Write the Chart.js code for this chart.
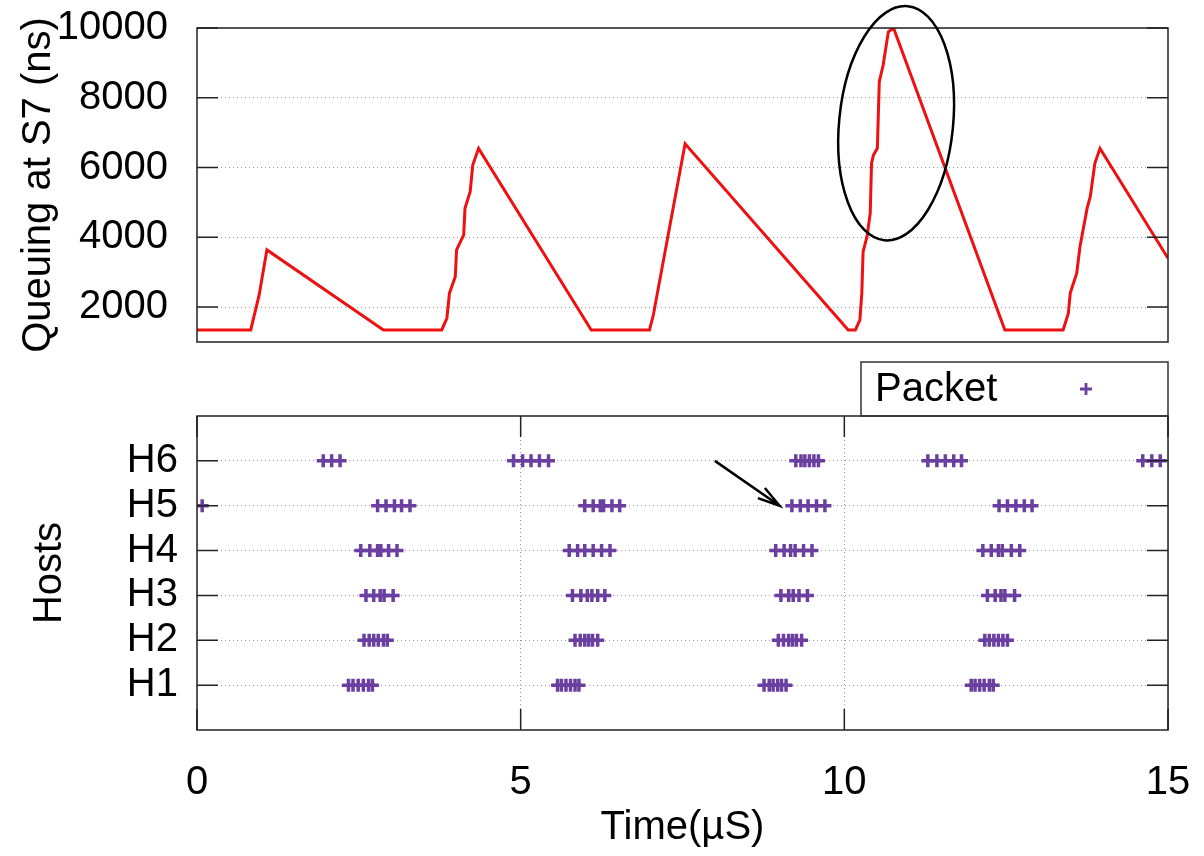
<!DOCTYPE html>
<html>
<head>
<meta charset="utf-8">
<script src="https://cdn.jsdelivr.net/npm/chart.js@4.4.1/dist/chart.umd.min.js"></script>
<style>
    html, body { margin: 0; padding: 0; background: #fff; }
    body { width: 1204px; height: 856px; position: relative; overflow: hidden; }
    canvas { position: absolute; left: 0; }
    #queueChart { top: 0; }
    #hostChart { top: 340px; }
</style>
</head>
<body>
<canvas id="hostChart" width="1204" height="516"></canvas>
<canvas id="queueChart" width="1204" height="400"></canvas>
<script>
// Fila no switch S7 (ns) ao longo do tempo (µs)
const queueTime = [0, 0.83, 0.96, 1.08, 2.88, 3.78, 3.86, 3.9, 3.99, 4.01, 4.12, 4.14, 4.22, 4.26, 4.35,
    6.09, 6.99, 7.05, 7.54, 10.06, 10.17, 10.24, 10.27, 10.29, 10.35, 10.4, 10.42, 10.45, 10.51, 10.54,
    10.6, 10.68, 10.76, 12.48, 13.38, 13.46, 13.49, 13.59, 13.64, 13.75, 13.8, 13.87, 13.95, 15];
const queueNs = [1345, 1345, 2350, 3640, 1345, 1345, 1680, 2400, 2870, 3640, 4070, 4830, 5310, 6070, 6550,
    1345, 1345, 1780, 6680, 1345, 1345, 1630, 2400, 3590, 4020, 4690, 6120, 6360, 6550, 8460,
    8940, 9890, 10000, 1345, 1345, 1820, 2400, 2970, 3730, 4830, 5170, 6120, 6550, 3400];
const queueTicks = [2000, 4000, 6000, 8000, 10000];

// Pacotes enviados por host
const hostLabels = ['H1', 'H2', 'H3', 'H4', 'H5', 'H6'];
const h1Times = [2.34, 2.41, 2.49, 2.57, 2.65, 2.71, 5.57, 5.63, 5.70, 5.77, 5.84, 5.90,
    8.76, 8.84, 8.90, 8.97, 9.03, 9.10, 11.96, 12.02, 12.09, 12.16, 12.24, 12.30];
const h2Times = [2.58, 2.66, 2.73, 2.80, 2.88, 2.94, 5.84, 5.92, 5.99, 6.05, 6.11, 6.19,
    8.98, 9.06, 9.14, 9.20, 9.26, 9.34, 12.17, 12.24, 12.31, 12.38, 12.45, 12.52];
const h3Times = [2.61, 2.73, 2.83, 2.89, 3.03, 5.80, 5.93, 6.03, 6.10, 6.19, 6.30,
    9.02, 9.14, 9.21, 9.30, 9.43, 12.21, 12.33, 12.42, 12.48, 12.63];
const h4Times = [2.53, 2.67, 2.79, 2.84, 2.96, 3.09, 5.75, 5.88, 5.99, 6.12, 6.25, 6.38,
    8.94, 9.07, 9.17, 9.24, 9.37, 9.50, 12.14, 12.27, 12.38, 12.44, 12.58, 12.71];
const h5Times = [0.08, 2.79, 2.92, 3.05, 3.16, 3.29, 5.99, 6.12, 6.23, 6.28, 6.41, 6.53,
    9.19, 9.32, 9.44, 9.57, 9.70, 12.39, 12.52, 12.65, 12.78, 12.90];
const h6Times = [1.95, 2.08, 2.21, 4.89, 5.03, 5.16, 5.29, 5.43, 9.25, 9.33, 9.39, 9.46, 9.53, 9.60,
    11.29, 11.43, 11.56, 11.69, 11.81, 14.61, 14.75, 14.88];
const timeTicks = [0, 5, 10, 15];

const red = '#ee1111';
const purple = '#6b3fa0';
const fontFamily = '"Liberation Sans", Arial, sans-serif';
const bigFont = { family: fontFamily, size: 40 };

// caixa do gráfico + marcas internas (estilo gnuplot)
const framePlugin = {
    id: 'frame',
    afterDatasetsDraw(chart, args, opts) {
        const { ctx, chartArea: a, scales } = chart;
        const len = 21;
        ctx.save();
        ctx.strokeStyle = '#222';
        ctx.lineWidth = 1.5;
        ctx.beginPath();
        scales.y.ticks.forEach(t => {
            const py = scales.y.getPixelForValue(t.value);
            ctx.moveTo(a.left, py); ctx.lineTo(a.left + len, py);
            ctx.moveTo(a.right - len, py); ctx.lineTo(a.right, py);
        });
        if (opts.xTicks) {
            scales.x.ticks.forEach(t => {
                const px = scales.x.getPixelForValue(t.value);
                ctx.moveTo(px, a.top); ctx.lineTo(px, a.top + len);
                ctx.moveTo(px, a.bottom - len); ctx.lineTo(px, a.bottom);
            });
        }
        ctx.stroke();
        ctx.strokeRect(a.left, a.top, a.right - a.left, a.bottom - a.top);
        ctx.restore();
    }
};

// elipse e seta (anotações)
const marksPlugin = {
    id: 'marks',
    afterDraw(chart, args, opts) {
        const { ctx, scales: { x, y } } = chart;
        ctx.save();
        ctx.strokeStyle = '#000';
        ctx.lineWidth = 2.5;
        (opts.ellipses || []).forEach(e => {
            const cx = x.getPixelForValue(e.x), cy = y.getPixelForValue(e.y);
            const rx = Math.abs(x.getPixelForValue(e.x + e.rx) - cx);
            const ry = Math.abs(y.getPixelForValue(e.y + e.ry) - cy);
            ctx.beginPath();
            ctx.ellipse(cx, cy, rx, ry, e.tilt, 0, Math.PI * 2);
            ctx.stroke();
        });
        (opts.arrows || []).forEach(ar => {
            const x1 = x.getPixelForValue(ar.from[0]), y1 = y.getPixelForValue(ar.from[1]);
            const x2 = x.getPixelForValue(ar.to[0]), y2 = y.getPixelForValue(ar.to[1]);
            const ang = Math.atan2(y2 - y1, x2 - x1);
            const head = 23, spread = 0.27;
            ctx.beginPath();
            ctx.moveTo(x1, y1); ctx.lineTo(x2, y2);
            ctx.moveTo(x2 - head * Math.cos(ang - spread), y2 - head * Math.sin(ang - spread));
            ctx.lineTo(x2, y2);
            ctx.lineTo(x2 - head * Math.cos(ang + spread), y2 - head * Math.sin(ang + spread));
            ctx.stroke();
        });
        ctx.restore();
    }
};

// legenda em caixa acima do gráfico de hosts
const keyPlugin = {
    id: 'key',
    afterDraw(chart) {
        const { ctx, chartArea: a } = chart;
        const w = 307, h = 54;
        const left = a.right - w, top = a.top - h;
        ctx.save();
        ctx.strokeStyle = '#333';
        ctx.lineWidth = 1.5;
        ctx.strokeRect(left, top, w, h);
        ctx.font = '40px ' + fontFamily;
        ctx.fillStyle = '#000';
        ctx.textBaseline = 'middle';
        ctx.textAlign = 'left';
        ctx.fillText(chart.data.datasets[0].label, left + 14, top + h / 2 + 1);
        const px = left + 225, py = top + h / 2;
        ctx.strokeStyle = purple;
        ctx.lineWidth = 2.8;
        ctx.beginPath();
        ctx.moveTo(px - 6, py); ctx.lineTo(px + 6, py);
        ctx.moveTo(px, py - 6); ctx.lineTo(px, py + 6);
        ctx.stroke();
        ctx.restore();
    }
};

function noPad(s) {
    s.paddingLeft = 0; s.paddingRight = 0; s.paddingTop = 0; s.paddingBottom = 0;
}

const gridStyle = { color: '#9a9a9a', lineWidth: 1, drawTicks: false };
const borderStyle = { display: false, dash: [1, 3] };

// Gráfico de fila
new Chart(document.getElementById('queueChart'), {
    type: 'line',
    data: {
        datasets: [{
            label: 'Queue',
            data: queueTime.map((t, i) => ({ x: t, y: queueNs[i] })),
            borderColor: red,
            borderWidth: 3,
            pointRadius: 0,
            tension: 0
        }]
    },
    options: {
        responsive: false,
        animation: false,
        devicePixelRatio: 1,
        layout: { padding: { left: 0, top: 28, right: 36, bottom: 58 } },
        plugins: {
            legend: { display: false },
            tooltip: { enabled: false },
            frame: { xTicks: false },
            marks: { ellipses: [{ x: 10.8, y: 7270, rx: 0.88, ry: 3370, tilt: 0.1 }] }
        },
        scales: {
            x: { type: 'linear', min: 0, max: 15, display: false },
            y: {
                min: 1000, max: 10000,
                afterBuildTicks: s => { s.ticks = queueTicks.map(v => ({ value: v })); },
                afterFit: s => { s.width = 197; noPad(s); },
                ticks: { font: bigFont, color: '#000', padding: 29, callback: v => String(v) },
                grid: gridStyle,
                border: borderStyle,
                title: { display: true, text: 'Queuing at S7 (ns)', font: bigFont, color: '#000', padding: { top: 15, bottom: 0 } }
            }
        }
    },
    plugins: [framePlugin, marksPlugin]
});

// Gráfico de pacotes por host
const hostSeries = [h1Times, h2Times, h3Times, h4Times, h5Times, h6Times];
const packetPoints = [];
hostSeries.forEach((times, i) => times.forEach(t => packetPoints.push({ x: t, y: i + 1 })));

new Chart(document.getElementById('hostChart'), {
    type: 'scatter',
    data: {
        datasets: [{
            label: 'Packet',
            data: packetPoints,
            pointStyle: 'cross',
            pointRadius: 6.5,
            pointBorderWidth: 3.5,
            pointBorderColor: purple,
            pointBackgroundColor: purple,
            borderColor: purple,
            backgroundColor: purple
        }]
    },
    options: {
        responsive: false,
        animation: false,
        devicePixelRatio: 1,
        layout: { padding: { left: 0, top: 76, right: 36, bottom: 0 } },
        elements: { point: { pointStyle: 'cross', radius: 6.5, borderWidth: 3.5 } },
        plugins: {
            legend: { display: false },
            tooltip: { enabled: false },
            frame: { xTicks: true },
            marks: { arrows: [{ from: [8, 6], to: [9, 5] }] }
        },
        scales: {
            x: {
                type: 'linear', min: 0, max: 15,
                afterBuildTicks: s => { s.ticks = timeTicks.map(v => ({ value: v })); },
                afterFit: s => { s.height = 126; noPad(s); },
                ticks: { font: bigFont, color: '#000', padding: 29, maxRotation: 0, autoSkip: false },
                grid: gridStyle,
                border: borderStyle,
                title: { display: true, text: 'Time(µS)', font: bigFont, color: '#000', padding: { top: 0, bottom: 4 } }
            },
            y: {
                min: 0, max: 7,
                afterBuildTicks: s => { s.ticks = hostLabels.map((l, i) => ({ value: i + 1 })); },
                afterFit: s => { s.width = 197; noPad(s); },
                ticks: { font: bigFont, color: '#000', padding: 19, callback: v => hostLabels[v - 1] },
                grid: gridStyle,
                border: borderStyle,
                title: { display: true, text: 'Hosts', font: bigFont, color: '#000', padding: { top: 26, bottom: 0 } }
            }
        }
    },
    plugins: [framePlugin, marksPlugin, keyPlugin]
});
</script>
</body>
</html>
